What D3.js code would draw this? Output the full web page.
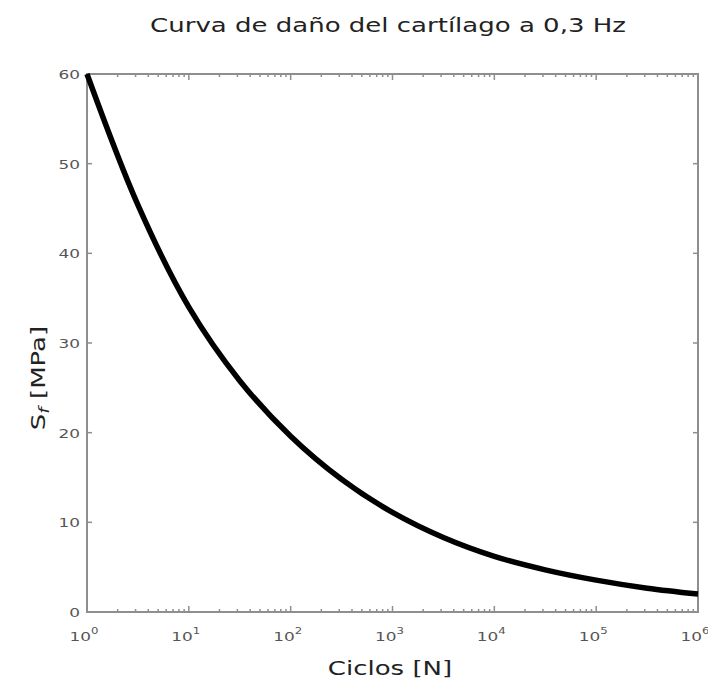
<!DOCTYPE html>
<html>
<head>
<meta charset="utf-8">
<script src="https://cdn.jsdelivr.net/npm/d3@7"></script>
<style>
  body { margin: 0; background: #fff; }
  svg { font-family: "DejaVu Sans", Verdana, sans-serif; }
</style>
</head>
<body>
<svg id="chart" width="708" height="689"></svg>
<script>

// damage curve, read at half-decade steps
var ciclos = [1, 3.16, 10, 31.6, 100, 316, 1000, 3162, 10000, 31623, 100000, 316228, 1000000]
var tension = [60, 45.4, 34, 25.8, 19.6, 14.8, 11.1, 8.3, 6.2, 4.7, 3.55, 2.65, 2.0]

var yTicks = [0, 10, 20, 30, 40, 50, 60]
var xDecades = [0, 1, 2, 3, 4, 5, 6]

var svg = d3.select("#chart")

// plot box edges (window.top is reserved, hence the prefix)
var plotLeft = 87, plotRight = 698, plotTop = 74, plotBottom = 612

// text is drawn a bit wide, like the original export
var stretch = 1.3

var x = d3.scaleLog().domain([1, 1e6]).range([plotLeft, plotRight])
var y = d3.scaleLinear().domain([0, 60]).range([plotBottom, plotTop])

function wideText(parent, tx, ty, angle) {
    return parent.append("g")
        .attr("transform", "translate(" + tx + "," + ty + ") rotate(" + (angle || 0) + ") scale(" + stretch + ",1)")
        .append("text")
}

// title
wideText(svg, 388, 32)
    .attr("text-anchor", "middle")
    .attr("font-size", 20)
    .attr("fill", "#222")
    .text("Curva de daño del cartílago a 0,3 Hz")

var frameColor = "#8e8e8e"

// minor log ticks at 2..9 of each decade
var minor = []
xDecades.slice(0, -1).forEach(function(d) {
    for (var k = 2; k <= 9; k++) minor.push(k * Math.pow(10, d))
})

function xTicks(data, len, cls) {
    // same ticks on the bottom and the top edge, pointing inward
    [[plotBottom, -1], [plotTop, 1]].forEach(function(edge) {
        svg.append("g").attr("class", cls).selectAll("line")
            .data(data)
            .enter()
            .append("line")
            .attr("x1", function(d) { return x(d) })
            .attr("x2", function(d) { return x(d) })
            .attr("y1", edge[0])
            .attr("y2", edge[0] + edge[1] * len)
            .attr("stroke", frameColor)
            .attr("stroke-width", 1.5)
    })
}

xTicks(minor, 3, "minor")
xTicks(xDecades.map(function(d) { return Math.pow(10, d) }), 6, "major")

// y ticks, both sides
;[[plotLeft, 1], [plotRight, -1]].forEach(function(edge) {
    svg.append("g").selectAll("line")
        .data(yTicks)
        .enter()
        .append("line")
        .attr("x1", edge[0])
        .attr("x2", edge[0] + edge[1] * 5)
        .attr("y1", function(d) { return y(d) })
        .attr("y2", function(d) { return y(d) })
        .attr("stroke", frameColor)
        .attr("stroke-width", 1.5)
})

// frame
svg.append("rect")
    .attr("x", plotLeft)
    .attr("y", plotTop)
    .attr("width", plotRight - plotLeft)
    .attr("height", plotBottom - plotTop)
    .attr("fill", "none")
    .attr("stroke", frameColor)
    .attr("stroke-width", 2)

// y tick labels
yTicks.forEach(function(d) {
    wideText(svg, plotLeft - 7, y(d) + 5)
        .attr("text-anchor", "end")
        .attr("font-size", 13)
        .attr("fill", "#555")
        .text(d)
})

// x tick labels as 10^n
xDecades.forEach(function(d) {
    var t = wideText(svg, x(Math.pow(10, d)) - 3, 641)
        .attr("text-anchor", "middle")
        .attr("font-size", 13)
        .attr("fill", "#555")
    t.append("tspan").text("10")
    t.append("tspan")
        .attr("dy", -7)
        .attr("font-size", 9)
        .text(d)
})

// curve
var line = d3.line()
    .x(function(d) { return x(d[0]) })
    .y(function(d) { return y(d[1]) })
    .curve(d3.curveCatmullRom.alpha(0.5))

svg.append("path")
    .datum(d3.zip(ciclos, tension))
    .attr("d", line)
    .attr("fill", "none")
    .attr("stroke", "#000")
    .attr("stroke-width", 5.5)

// axis labels
wideText(svg, 390, 675)
    .attr("text-anchor", "middle")
    .attr("font-size", 20)
    .attr("fill", "#222")
    .text("Ciclos [N]")

var yl = wideText(svg, 45, 378, -90)
    .attr("text-anchor", "middle")
    .attr("font-size", 20)
    .attr("fill", "#222")

yl.append("tspan").text("S")
yl.append("tspan")
    .attr("font-size", 14)
    .attr("font-style", "italic")
    .attr("dy", 4)
    .text("f")
yl.append("tspan")
    .attr("dy", -4)
    .text(" [MPa]")

</script>
</body>
</html>
